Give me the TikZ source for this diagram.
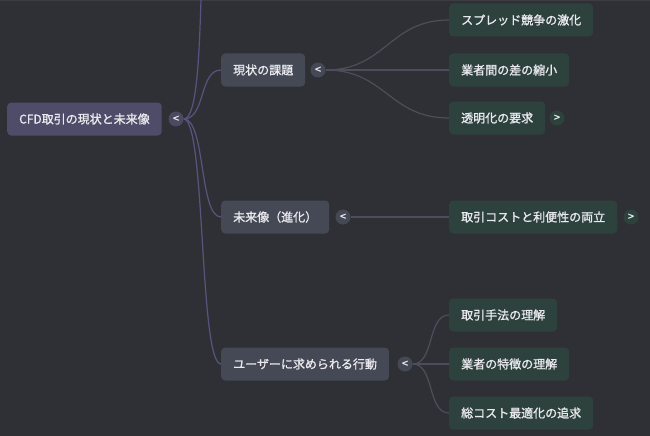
\documentclass[tikz,border=0pt]{standalone}
\usepackage{fontspec}
\setmainfont{Noto Sans CJK JP}[BoldFont={Noto Sans CJK JP}, BoldFeatures={FakeBold=1.2}]
\pgfdeclarelayer{bglayer}
\pgfdeclarelayer{linklayer}
\pgfsetlayers{bglayer,linklayer,main}
\begin{document}
\begin{tikzpicture}[x=1pt,y=-1pt,
  every node/.style={font=\fontsize{12}{14}\selectfont\bfseries, text=txt},
  box/.style={rounded corners=4pt, minimum height=33pt, inner xsep=12pt, inner ysep=0pt, anchor=west},
  rootbox/.style={box, fill=rootc},
  lonebox/.style={box, fill=lonec},
  ltwobox/.style={box, fill=ltwoc},
  btn/.style={circle, inner sep=0pt, minimum size=15pt, font=\fontsize{11}{11}\selectfont\bfseries},
  rootlink/.style={draw=rootl, line width=1.2pt},
  onelink/.style={draw=onel, line width=1.2pt},
]
\definecolor{bg}{HTML}{2F3035}
\definecolor{topl}{HTML}{3C3D43}
\definecolor{txt}{HTML}{EAEAEE}
\definecolor{rootc}{HTML}{4E4C68}
\definecolor{lonec}{HTML}{444955}
\definecolor{ltwoc}{HTML}{2E423D}
\definecolor{rootb}{HTML}{4A4A60}
\definecolor{rootl}{HTML}{57557E}
\definecolor{onel}{HTML}{4A4F5B}
\useasboundingbox (0,0) rectangle (650,436);
\begin{pgfonlayer}{bglayer}
\fill[bg] (0,0) rectangle (650,436);
\draw[line width=1pt, draw=topl] (0,0.5) -- (650,0.5);
\end{pgfonlayer}

% nodes
\node[rootbox] (root) at (7,119) {CFD取引の現状と未来像};
\node[btn, fill=rootb] (rb) at (176,119) {<};
\coordinate (up) at (221,-160);

\node[lonebox] (a) at (221,70) {現状の課題};
\node[btn, fill=lonec] (ab) at (318,70) {<};
\node[lonebox] (b) at (221,217) {未来像（進化）};
\node[btn, fill=lonec] (bb) at (343,217) {<};
\node[lonebox] (c) at (221,364) {ユーザーに求められる行動};
\node[btn, fill=lonec] (cb) at (405,364) {<};

\node[ltwobox] (a1) at (449,20) {スプレッド競争の激化};
\node[ltwobox] (a2) at (449,70) {業者間の差の縮小};
\node[ltwobox] (a3) at (449,118) {透明化の要求};
\node[btn, fill=ltwoc] (a3b) at (557,118) {>};
\node[ltwobox] (b1) at (449,217) {取引コストと利便性の両立};
\node[btn, fill=ltwoc] (b1b) at (631,217) {>};
\node[ltwobox] (c1) at (449,315) {取引手法の理解};
\node[ltwobox] (c2) at (449,364) {業者の特徴の理解};
\node[ltwobox] (c3) at (449,413) {総コスト最適化の追求};

% connectors
\begin{pgfonlayer}{linklayer}
\clip (0,0) rectangle (650,436);
\path[rootlink] (rb.east) .. controls +(28,0) and +(-30,0) .. (up);
\path[rootlink] (rb.east) .. controls +(22,0) and +(-22,0) .. (a.west);
\path[rootlink] (rb.east) .. controls +(22,0) and +(-22,0) .. (b.west);
\path[rootlink] (rb.east) .. controls +(22,0) and +(-22,0) .. (c.west);

\path[onelink] (ab.east) .. controls +(60,0) and +(-60,0) .. (a1.west);
\path[onelink] (ab.east) -- (a2.west);
\path[onelink] (ab.east) .. controls +(60,0) and +(-60,0) .. (a3.west);
\path[onelink] (bb.east) -- (b1.west);
\path[onelink] (cb.east) .. controls +(22,0) and +(-22,0) .. (c1.west);
\path[onelink] (cb.east) -- (c2.west);
\path[onelink] (cb.east) .. controls +(22,0) and +(-22,0) .. (c3.west);
\end{pgfonlayer}
\end{tikzpicture}
\end{document}
